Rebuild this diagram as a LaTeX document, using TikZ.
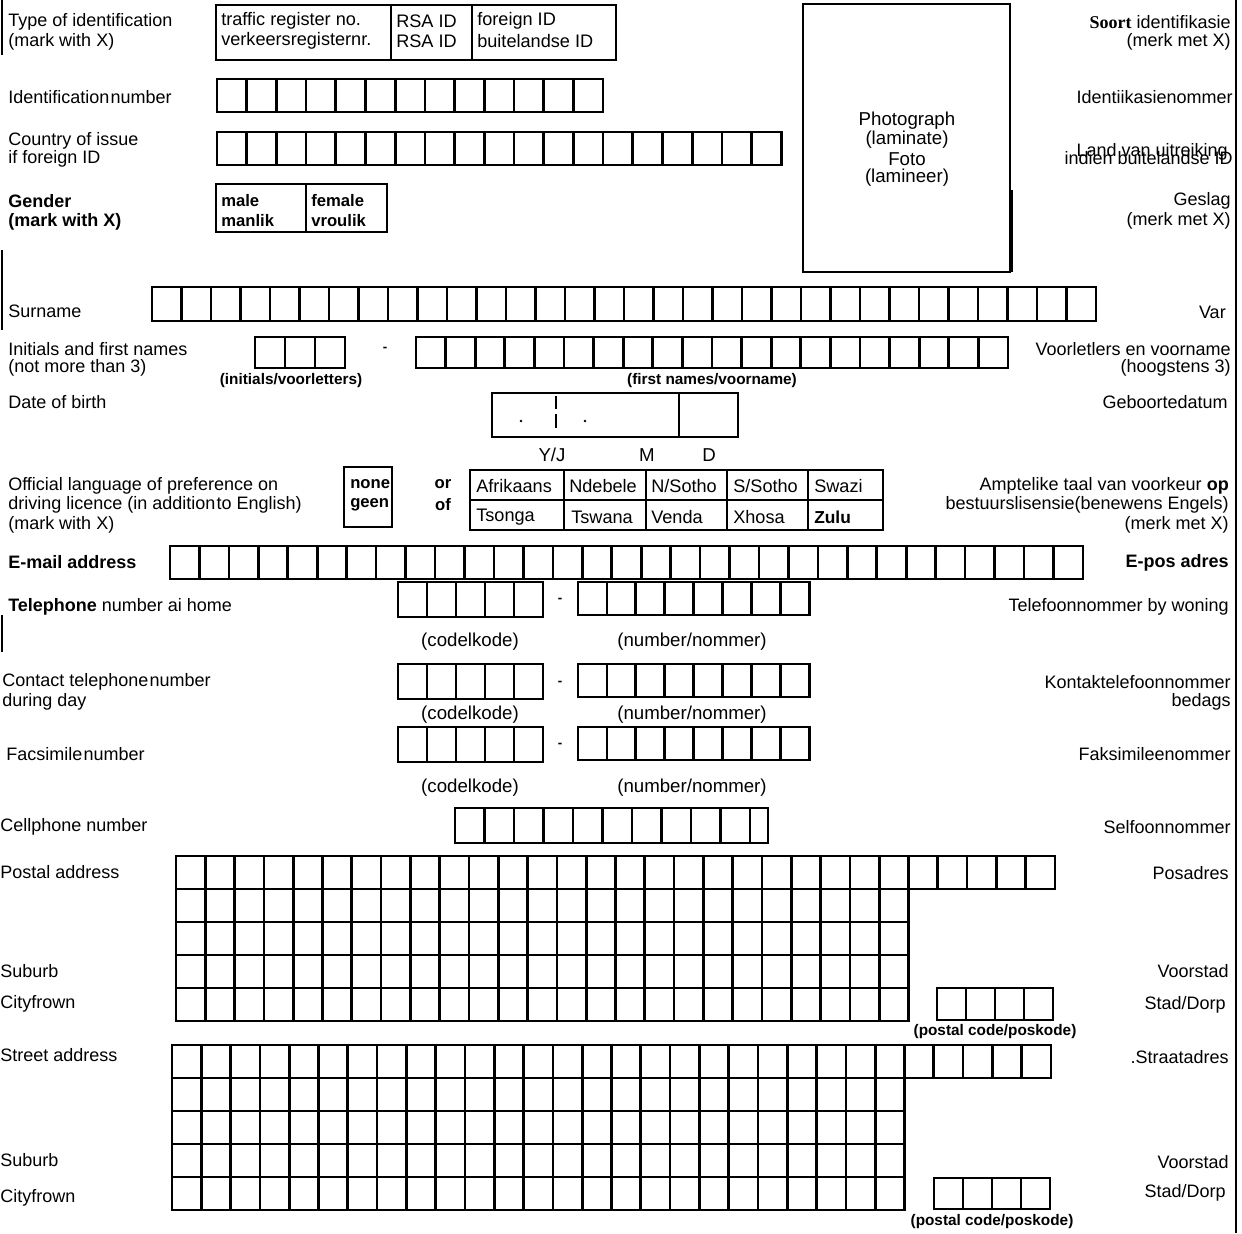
\documentclass[tikz,border=0pt]{standalone}
\usepackage{fontspec}
\setmainfont{Liberation Sans}
\newfontfamily\soortfont{Liberation Serif}

\newcommand{\cellrow}[5]{% x, y, number of cells, cell width, cell height
	\foreach \k in {1,...,#3}
		\draw[cell] ({#1+(\k-1)*#4},#2) rectangle ++(#4,#5);
}

\begin{document}
\begin{tikzpicture}[x=0.75pt,y=-0.75pt,
	cell/.style={line width=2pt},
	frame/.style={line width=1.5pt},
	lbl/.style={anchor=west,inner sep=0pt,font=\fontsize{13.5}{15}\selectfont},
	rlbl/.style={anchor=east,inner sep=0pt,font=\fontsize{13.5}{15}\selectfont},
	txt/.style={anchor=west,inner sep=0pt,font=\fontsize{13.6}{15}\selectfont},
	ctxt/.style={inner sep=0pt,font=\fontsize{14}{15}\selectfont},
	bctxt/.style={inner sep=0pt,font=\fontsize{11.5}{13}\selectfont\bfseries}]
	
	\useasboundingbox (0,0) rectangle (1242,1233);
	\draw[line width=1.8pt] (1236,0) -- (1236,1233);
	\draw[line width=0.8pt] (2,0) -- (2,55);
	\draw[line width=0.8pt] (2,250) -- (2,330);
	\draw[line width=0.8pt] (2,615) -- (2,652);
	
	% left column
	\node[lbl] (typeL1) at (8,22) {Type of identification};
	\node[lbl] (typeL2) at (8,42) {(mark with X)};
	\node[lbl] (idL) at (8,97) {Identification\hspace{1pt}number};
	\node[lbl] (countryL1) at (8,141) {Country of issue};
	\node[lbl] (countryL2) at (8,159) {if foreign ID};
	\node[lbl,font=\fontsize{13.5}{15}\selectfont\bfseries] (genderL1) at (8,201) {Gender};
	\node[lbl,font=\fontsize{13.5}{15}\selectfont\bfseries] (genderL2) at (8,222) {(mark with X)};
	\node[lbl] (surnameL) at (8,311) {Surname};
	\node[lbl] (initL1) at (8,349) {Initials and first names};
	\node[lbl] (initL2) at (8,368) {(not more than 3)};
	\node[lbl] (dobL) at (8,402) {Date of birth};
	\node[lbl] (langL1) at (8,486) {Official language of preference on};
	\node[lbl] (langL2) at (8,505) {driving licence (in addition\hspace{1pt}to English)};
	\node[lbl] (langL3) at (8,525) {(mark with X)};
	\node[lbl,font=\fontsize{13.5}{15}\selectfont\bfseries] (mailL) at (8,562) {E-mail address};
	\node[lbl] (telL) at (8,607) {\textbf{Telephone} number ai home};
	\node[lbl] (contactL1) at (2,682) {Contact telephone\hspace{1pt}number};
	\node[lbl] (contactL2) at (2,702) {during day};
	\node[lbl] (faxL) at (6,754) {Facsimile\hspace{1pt}number};
	\node[lbl] (cellL) at (0,827) {Cellphone number};
	\node[lbl] (postL) at (0,872) {Postal address};
	\node[lbl] (subL1) at (0,971) {Suburb};
	\node[lbl] (cityL1) at (0,1004) {Cityfrown};
	\node[lbl] (streetL) at (0,1055) {Street address};
	\node[lbl] (subL2) at (0,1160) {Suburb};
	\node[lbl] (cityL2) at (0,1198) {Cityfrown};
	
	% right column
	\node[rlbl] (typeR1) at (1231,22) {{\soortfont\bfseries Soort} identifikasie};
	\node[rlbl] (typeR2) at (1231,42) {(merk met X)};
	\node[rlbl] (idR) at (1233,97) {Identiikasienommer};
	\node[rlbl] (countryR1) at (1228,152) {Land van uitreiking};
	\node[rlbl] (countryR2) at (1233,158) {indien buitelandse ID};
	\node[rlbl] (genderR1) at (1231,201) {Geslag};
	\node[rlbl] (genderR2) at (1231,221) {(merk met X)};
	\node[rlbl] (surnameR) at (1226,312) {Var};
	\node[rlbl] (initR1) at (1231,349) {Voorletlers en voorname};
	\node[rlbl] (initR2) at (1231,368) {(hoogstens 3)};
	\node[rlbl] (dobR) at (1228,402) {Geboortedatum};
	\node[rlbl] (langR1) at (1229,486) {Amptelike taal van voorkeur \textbf{op}};
	\node[rlbl] (langR2) at (1229,505) {bestuurslisensie(benewens Engels)};
	\node[rlbl] (langR3) at (1229,525) {(merk met X)};
	\node[rlbl,font=\fontsize{13.5}{15}\selectfont\bfseries] (mailR) at (1229,563) {E-pos adres};
	\node[rlbl] (telR) at (1229,607) {Telefoonnommer by woning};
	\node[rlbl] (contactR1) at (1231,682) {Kontaktelefoonnommer};
	\node[rlbl] (contactR2) at (1231,702) {bedags};
	\node[rlbl] (faxR) at (1231,754) {Faksimileenommer};
	\node[rlbl] (cellR) at (1231,827) {Selfoonnommer};
	\node[rlbl] (postR) at (1229,873) {Posadres};
	\node[rlbl] (subR1) at (1229,971) {Voorstad};
	\node[rlbl] (cityR1) at (1226,1005) {Stad/Dorp};
	\node[rlbl] (streetR) at (1229,1057) {.Straatadres};
	\node[rlbl] (subR2) at (1229,1162) {Voorstad};
	\node[rlbl] (cityR2) at (1226,1193) {Stad/Dorp};
	
	% type of identification
	\draw[frame] (216,5) rectangle (616,60);
	\draw[frame] (391,5) -- (391,60);
	\draw[frame] (472,5) -- (472,60);
	\node[txt] (traffic) at (221,21) {traffic register no.};
	\node[txt] (verkeer) at (221,41) {verkeersregisternr.};
	\node[txt] (rsa) at (396,21) {RSA ID};
	\node[txt] (rsa2) at (396,41) {RSA ID};
	\node[txt] (foreign) at (477,21) {foreign ID};
	\node[txt] (buite) at (477,41) {buitelandse ID};
	
	\cellrow{217}{79}{13}{29.7}{33}
	\cellrow{217}{132}{19}{29.7}{33}
	
	% gender
	\draw[cell] (216,184) rectangle (387,232);
	\draw[cell] (306,184) -- (306,232);
	\node[txt,font=\fontsize{12.5}{15}\selectfont\bfseries] (male) at (221,201) {male};
	\node[txt,font=\fontsize{12.5}{15}\selectfont\bfseries] (manlik) at (221,221) {manlik};
	\node[txt,font=\fontsize{12.5}{15}\selectfont\bfseries] (female) at (311,201) {female};
	\node[txt,font=\fontsize{12.5}{15}\selectfont\bfseries] (vroulik) at (311,221) {vroulik};
	
	% photo
	\draw[frame] (803,4) rectangle (1010,272);
	\draw[cell] (1012,190) -- (1012,272);
	\node[ctxt] (photo1) at (907,121) {Photograph};
	\node[ctxt] (photo2) at (907,140) {(laminate)};
	\node[ctxt] (photo3) at (907,159) {Foto};
	\node[ctxt] (photo4) at (907,178) {(lamineer)};
	
	% names
	\cellrow{152}{287}{32}{29.5}{34}
	\cellrow{255}{337}{3}{30}{31}
	\node[ctxt,font=\bfseries] (initdash) at (385,349) {-};
	\cellrow{416}{337}{20}{29.6}{31}
	\node[bctxt] (initcap) at (291,381) {(initials/voorletters)};
	\node[bctxt] (firstcap) at (712,381) {(first names/voorname)};
	
	% date of birth
	\draw[cell] (492,393) rectangle (738,437);
	\draw[cell] (679,393) -- (679,437);
	\draw[line width=1pt] (556,396) -- (556,409);
	\draw[line width=1.4pt] (556,414) -- (556,428);
	\fill (521,421) circle (1.3);
	\fill (585,421) circle (1.3);
	\node[ctxt] (yj) at (552,455) {Y/J};
	\node[ctxt] (mm) at (647,455) {M};
	\node[ctxt] (dd) at (709,455) {D};
	
	% language
	\draw[cell] (344,467) rectangle (392,527);
	\node[txt,font=\fontsize{12.5}{15}\selectfont\bfseries] (none) at (350,484) {none};
	\node[txt,font=\fontsize{12.5}{15}\selectfont\bfseries] (geen) at (350,505) {geen};
	\node[ctxt,font=\fontsize{12.5}{15}\selectfont\bfseries] (orr) at (443,484) {or};
	\node[ctxt,font=\fontsize{12.5}{15}\selectfont\bfseries] (off) at (443,505) {of};
	\draw[cell] (470,470) rectangle (883,530);
	\draw[frame] (470,500) -- (883,500);
	\foreach \xx in {564,646,727,808}
		\draw[frame] (\xx,470) -- (\xx,530);
	\foreach \xx/\name/\lang in {476/afr/Afrikaans,569/nde/Ndebele,651/nso/{N/Sotho},733/sso/{S/Sotho},814/swa/Swazi}
		\node[txt] (\name) at (\xx,486) {\lang};
	\foreach \xx/\name/\lang in {476/tso/Tsonga,571/tsw/Tswana,651/ven/Venda,733/xho/Xhosa}
		\node[txt] (\name) at (\xx,517) {\lang};
	\node[txt,font=\fontsize{13}{15}\selectfont\bfseries] (zul) at (814,517) {Zulu};
	
	% e-mail
	\cellrow{170}{546}{31}{29.45}{33}
	
	% telephone numbers
	\cellrow{398}{582}{5}{29}{35}
	\node[ctxt,font=\bfseries] (teldash) at (560,600) {-};
	\cellrow{578}{582}{8}{28.9}{33}
	\node[ctxt] (telcode) at (470,642) {(codelkode)};
	\node[ctxt] (telnum) at (692,642) {(number/nommer)};
	
	\cellrow{398}{664}{5}{29}{35}
	\node[ctxt,font=\bfseries] (condash) at (560,683) {-};
	\cellrow{578}{664}{8}{28.9}{33}
	\node[ctxt] (concode) at (470,715) {(codelkode)};
	\node[ctxt] (connum) at (692,715) {(number/nommer)};
	
	\cellrow{398}{727}{5}{29}{35}
	\node[ctxt,font=\bfseries] (faxdash) at (560,745) {-};
	\cellrow{578}{727}{8}{28.9}{33}
	\node[ctxt] (faxcode) at (470,788) {(codelkode)};
	\node[ctxt] (faxnum) at (692,788) {(number/nommer)};
	
	\cellrow{455}{808}{10}{29.5}{35}
	\draw[cell] (750,808) rectangle (768,843);
	
	% postal address
	\cellrow{176}{856}{30}{29.3}{33}
	\cellrow{176}{889}{25}{29.3}{33}
	\cellrow{176}{922}{25}{29.3}{33}
	\cellrow{176}{955}{25}{29.3}{33}
	\cellrow{176}{988}{25}{29.3}{33}
	\cellrow{937}{988}{4}{29}{32}
	\node[bctxt] (postcode) at (995,1032) {(postal code/poskode)};
	
	% street address
	\cellrow{172}{1045}{30}{29.3}{33}
	\cellrow{172}{1078}{25}{29.3}{33}
	\cellrow{172}{1111}{25}{29.3}{33}
	\cellrow{172}{1144}{25}{29.3}{33}
	\cellrow{172}{1177}{25}{29.3}{33}
	\cellrow{934}{1178}{4}{29}{31}
	\node[bctxt] (streetcode) at (992,1222) {(postal code/poskode)};
\end{tikzpicture}
\end{document}
